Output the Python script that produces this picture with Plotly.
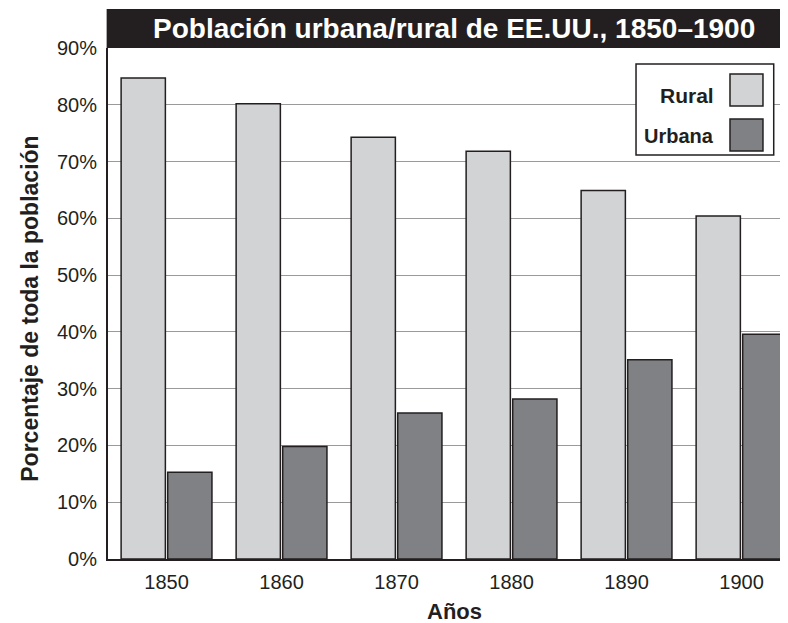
import plotly.graph_objects as go

years = ["1850", "1860", "1870", "1880", "1890", "1900"]
rural = [84.7, 80.2, 74.3, 71.8, 64.9, 60.4]
urbana = [15.3, 19.8, 25.7, 28.2, 35.1, 39.6]
y_ticks = [0, 10, 20, 30, 40, 50, 60, 70, 80, 90]
y_ticktext = [f"{v}%" for v in y_ticks]

TXT = "#231f20"
RURAL_C = "#d2d3d5"
URB_C = "#808184"
EDGE = "#231f20"
FONT = "Liberation Sans, Arial, sans-serif"

fig = go.Figure()
fig.add_trace(go.Bar(x=years, y=rural, name="Rural", marker=dict(color=RURAL_C, line=dict(color=EDGE, width=1.5))))
fig.add_trace(go.Bar(x=years, y=urbana, name="Urbana", marker=dict(color=URB_C, line=dict(color=EDGE, width=1.5))))

# page body has an 8px margin, so the figure is 8px smaller and shifted
fig.update_layout(
    width=780, height=615,
    margin=dict(l=100, r=0, t=40, b=64),
    paper_bgcolor="white", plot_bgcolor="white",
    barmode="group", bargap=0.19, bargroupgap=0.05,
    showlegend=False,
    font=dict(family=FONT, color=TXT, size=20),
    xaxis=dict(
        type="category", range=[-0.509, 5.404], automargin=False,
        showline=True, linecolor=TXT, linewidth=2,
        showgrid=False, ticks="", ticklabelstandoff=4,
        tickfont=dict(size=20, color=TXT),
    ),
    yaxis=dict(
        range=[0, 90], tickvals=y_ticks, ticktext=y_ticktext, automargin=False,
        showline=True, linecolor=TXT, linewidth=2,
        showgrid=True, gridcolor="#9a9a9a", gridwidth=1,
        zeroline=False, ticks="", ticklabelstandoff=5,
        tickfont=dict(size=20, color=TXT),
    ),
)

# Axis titles
fig.add_annotation(xref="paper", yref="paper", x=-0.116, y=0.49, xanchor="center", yanchor="middle",
                   textangle=-90, text="<b>Porcentaje de toda la población</b>", showarrow=False,
                   font=dict(family=FONT, size=23, color=TXT))
fig.add_annotation(xref="paper", yref="paper", x=0.51, y=-0.1037, xanchor="center", yanchor="middle",
                   text="<b>Años</b>", showarrow=False, font=dict(family=FONT, size=22, color=TXT))

# Title bar
fig.add_shape(type="rect", xref="paper", yref="paper", x0=-0.002, x1=1.0, y0=1.0, y1=1.0763,
              fillcolor="#231f20", line=dict(width=0), layer="above")
fig.add_annotation(xref="paper", yref="paper", x=0.509, y=1.0372, xanchor="center", yanchor="middle",
                   text="<b>Población urbana/rural de EE.UU., 1850–1900</b>", showarrow=False,
                   font=dict(family=FONT, size=28, color="white"))

# Custom legend (swatches on the right of labels)
fig.add_shape(type="rect", xref="paper", yref="paper", x0=0.7765, x1=0.979, y0=0.7906, y1=0.9687,
              fillcolor="white", line=dict(color=EDGE, width=1.5), layer="above")
fig.add_shape(type="rect", xref="paper", yref="paper", x0=0.9147, x1=0.9632, y0=0.8865, y1=0.949,
              fillcolor=RURAL_C, line=dict(color=EDGE, width=1.5), layer="above")
fig.add_shape(type="rect", xref="paper", yref="paper", x0=0.9147, x1=0.9632, y0=0.7984, y1=0.861,
              fillcolor=URB_C, line=dict(color=EDGE, width=1.5), layer="above")
fig.add_annotation(xref="paper", yref="paper", x=0.894, y=0.908, xanchor="right", yanchor="middle",
                   text="<b>Rural</b>", showarrow=False, font=dict(family=FONT, size=21, color=TXT))
fig.add_annotation(xref="paper", yref="paper", x=0.894, y=0.828, xanchor="right", yanchor="middle",
                   text="<b>Urbana</b>", showarrow=False, font=dict(family=FONT, size=20, color=TXT))

fig.write_html("out.html")
